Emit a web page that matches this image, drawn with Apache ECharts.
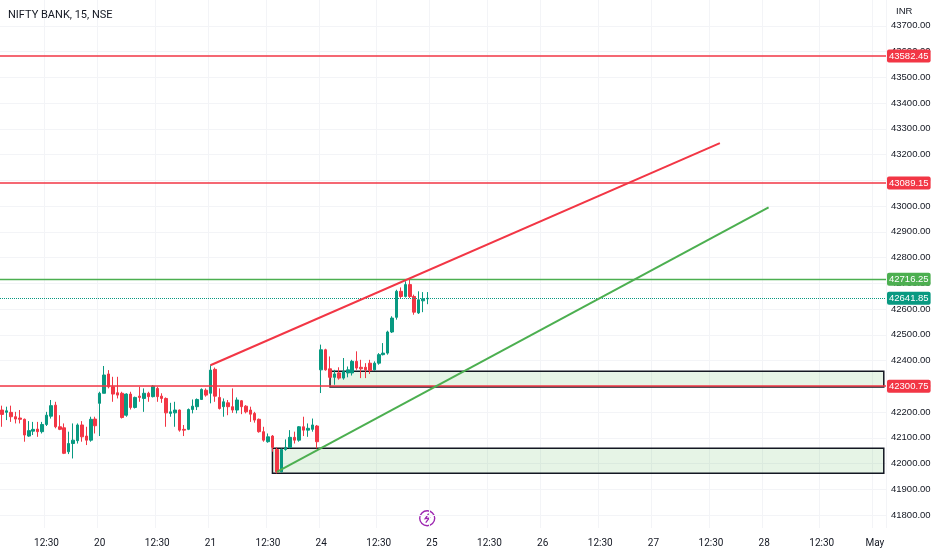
<!DOCTYPE html>
<html>
<head>
<meta charset="utf-8">
<title>NIFTY BANK, 15, NSE</title>
<script src="https://cdn.jsdelivr.net/npm/echarts@6/dist/echarts.min.js"></script>
<style>
  html, body { margin: 0; padding: 0; background: #fff; }
  #main { width: 932px; height: 550px; }
</style>
</head>
<body>
<div id="main"></div>
<script>
// trading days on the time axis and the 15 minute slots of one session
var days = ['19', '20', '21', '24', '25', '26', '27', '28', 'May'];
var slotTimes = ['09:15', '09:30', '09:45', '10:00', '10:15', '10:30', '10:45', '11:00', '11:15',
  '11:30', '11:45', '12:00', '12:15', '12:30', '12:45', '13:00', '13:15', '13:30', '13:45',
  '14:00', '14:15', '14:30', '14:45', '15:00', '15:15'];

// candles [open, close, low, high]
var apr19 = [
  [42208, 42191, 42143, 42225], [42199, 42205, 42169, 42221], [42199, 42182, 42162, 42225],
  [42182, 42173, 42156, 42201], [42177, 42172, 42156, 42208], [42172, 42111, 42085, 42175],
  [42107, 42128, 42104, 42165], [42126, 42133, 42111, 42162], [42134, 42124, 42104, 42162],
  [42124, 42152, 42117, 42162], [42152, 42188, 42146, 42201], [42184, 42225, 42175, 42247],
  [42227, 42143, 42137, 42240], [42143, 42133, 42130, 42188], [42139, 42040, 42037, 42156],
  [42046, 42078, 42037, 42124], [42078, 42091, 42020, 42156], [42089, 42150, 42078, 42156],
  [42150, 42104, 42085, 42165], [42107, 42091, 42072, 42143], [42091, 42172, 42085, 42182],
  [42173, 42147, 42117, 42182]
];
var apr20 = [
  [42234, 42273, 42107, 42279], [42273, 42344, 42273, 42379], [42348, 42298, 42292, 42363],
  [42298, 42270, 42240, 42337], [42275, 42266, 42253, 42337], [42273, 42179, 42175, 42279],
  [42188, 42270, 42182, 42273], [42270, 42218, 42210, 42279], [42218, 42257, 42214, 42260],
  [42262, 42257, 42240, 42298], [42253, 42273, 42201, 42292], [42273, 42260, 42240, 42279],
  [42260, 42301, 42257, 42305], [42292, 42260, 42240, 42298], [42262, 42253, 42236, 42273],
  [42253, 42197, 42143, 42257], [42195, 42201, 42182, 42236], [42197, 42208, 42143, 42240],
  [42208, 42130, 42124, 42210], [42133, 42130, 42107, 42150], [42133, 42210, 42130, 42214],
  [42210, 42223, 42195, 42249], [42221, 42249, 42208, 42253], [42249, 42288, 42247, 42292],
  [42285, 42266, 42260, 42292]
];
var apr21 = [
  [42273, 42363, 42234, 42382], [42366, 42262, 42240, 42373], [42257, 42214, 42210, 42292],
  [42221, 42240, 42182, 42253], [42236, 42221, 42188, 42247], [42221, 42208, 42197, 42292],
  [42208, 42247, 42195, 42257], [42244, 42221, 42192, 42247], [42223, 42201, 42195, 42227],
  [42208, 42192, 42162, 42221], [42195, 42169, 42159, 42201], [42172, 42124, 42120, 42175],
  [42124, 42091, 42085, 42143], [42085, 42104, 42081, 42117], [42107, 42063, 42046, 42111],
  [42055, 41968, 41962, 42063], [41968, 42055, 41966, 42059], [42055, 42063, 42050, 42094],
  [42063, 42102, 42059, 42130], [42102, 42091, 42078, 42124], [42091, 42143, 42085, 42146],
  [42143, 42130, 42107, 42182], [42130, 42137, 42104, 42156], [42133, 42150, 42124, 42175],
  [42146, 42085, 42059, 42150]
];
var apr24 = [
  [42364, 42442, 42274, 42462], [42442, 42364, 42361, 42446], [42368, 42335, 42326, 42416],
  [42335, 42348, 42306, 42364], [42352, 42332, 42326, 42374], [42332, 42358, 42326, 42410],
  [42352, 42364, 42335, 42377], [42352, 42397, 42342, 42403], [42397, 42371, 42364, 42436],
  [42374, 42368, 42332, 42403], [42374, 42364, 42332, 42390], [42390, 42361, 42348, 42403],
  [42364, 42390, 42361, 42397], [42390, 42423, 42384, 42429], [42423, 42429, 42420, 42468],
  [42429, 42511, 42423, 42516], [42511, 42565, 42507, 42572], [42568, 42669, 42559, 42675],
  [42669, 42649, 42643, 42684], [42649, 42695, 42645, 42708], [42695, 42649, 42643, 42716],
  [42649, 42588, 42578, 42656], [42585, 42636, 42581, 42669], [42632, 42640, 42588, 42666],
  [42640, 42641.85, 42619, 42666]
];

// price axis ticks
var yTicks = [41800, 41900, 42000, 42100, 42200, 42300, 42400, 42500, 42600, 42700,
  42800, 42900, 43000, 43100, 43200, 43300, 43400, 43500, 43600, 43700];

// drawn levels
var redLevels = [43582.45, 43089.15, 42300.75];
var greenLevels = [42716.25];
var lastPrice = 42641.85;

// trend lines: [category index, price]
var redTrend = [[47, 42382], [162, 43244]];
var greenTrend = [[62, 41968], [173, 42995]];

// demand zones: [from index, to index, top price, bottom price]
var zones = [[61, 199, 42060, 41963], [74, 199, 42359, 42297]];

// build category list (chart starts at 19th 10:00)
var categories = [];
days.forEach(function (d) {
  slotTimes.forEach(function (t) { categories.push(d + ' ' + t); });
});
categories = categories.slice(3, 203);

var candles = apr19.concat(apr20, apr21, apr24);

var up = '#089981', down = '#f23645', green = '#4caf50', ink = '#131722';
var font = 'Roboto, "Liberation Sans", sans-serif';
// price scale is only 46px wide, use the narrowest sans
var narrow = '"Liberation Sans", Roboto, sans-serif';

function showX(i, v) {
  var t = v.split(' ')[1];
  return t === '09:15' || t === '12:30';
}

var markLines = [];
redLevels.forEach(function (v) {
  markLines.push({ yAxis: v, lineStyle: { color: down, width: 1.6, type: 'solid' },
    label: { backgroundColor: down } });
});
greenLevels.forEach(function (v) {
  markLines.push({ yAxis: v, lineStyle: { color: green, width: 1.4, type: 'solid' },
    label: { backgroundColor: green } });
});
markLines.push({ yAxis: lastPrice, lineStyle: { color: up, width: 1, type: 'dotted' },
  label: { backgroundColor: up } });
markLines.push([{ coord: redTrend[0] }, { coord: redTrend[1],
  lineStyle: { color: down, width: 2, type: 'solid' }, label: { show: false } }]);
markLines.push([{ coord: greenTrend[0] }, { coord: greenTrend[1],
  lineStyle: { color: green, width: 2, type: 'solid' }, label: { show: false } }]);

var areas = zones.map(function (z) {
  return [{ coord: [z[0], z[2]] }, { coord: [z[1], z[3]] }];
});

var chart = echarts.init(document.getElementById('main'));

var option = {
  animation: false,
  backgroundColor: '#ffffff',
  title: {
    text: 'NIFTY BANK, 15, NSE',
    left: 3, top: 5,
    textStyle: { color: ink, fontSize: 11, fontWeight: 'normal', fontFamily: font }
  },
  // plot area, the price scale sits in the 46px on the right
  grid: { left: 0, right: 46, top: 0, bottom: 22, outerBoundsMode: 'none', containLabel: false },
  xAxis: {
    type: 'category',
    data: categories,
    boundaryGap: true,
    axisLine: { show: false },
    axisTick: { show: false },
    axisLabel: {
      interval: showX,
      color: ink, fontSize: 10, fontFamily: font, margin: 10,
      formatter: function (v) {
        var p = v.split(' ');
        return p[1] === '09:15' ? p[0] : p[1];
      }
    },
    splitLine: { show: true, interval: showX, lineStyle: { color: '#f3f4f7', width: 1 } }
  },
  yAxis: {
    type: 'value',
    position: 'right',
    min: 41750,
    max: 43800,
    axisLine: { show: false },
    axisTick: { show: false, customValues: yTicks },
    axisLabel: {
      customValues: yTicks,
      color: ink, fontSize: 9.5, fontFamily: narrow, margin: 5,
      formatter: function (v) { return v.toFixed(2); }
    },
    splitLine: { show: true, lineStyle: { color: '#f3f4f7', width: 1 } }
  },
  graphic: [
    {
      type: 'text', left: 896, top: 6,
      style: { text: 'INR', fill: ink, fontSize: 9.5, fontFamily: narrow }
    },
    {
      type: 'group', left: 419, top: 510,
      children: [
        { type: 'circle', shape: { cx: 8, cy: 8, r: 7.5 },
          style: { fill: '#fff', stroke: '#9c27b0', lineWidth: 1.4 } },
        { type: 'polyline', shape: { points: [[9.5, 3.5], [6, 8.5], [10, 8], [6.5, 12.5]] },
          style: { fill: 'none', stroke: '#9c27b0', lineWidth: 1.3 } }
      ]
    }
  ],
  series: [{
    name: 'NIFTY BANK',
    type: 'candlestick',
    data: candles,
    barWidth: '68%',
    itemStyle: {
      color: up, color0: down,
      borderColor: up, borderColor0: down,
      borderWidth: 1
    },
    markArea: {
      silent: true,
      itemStyle: { color: 'rgba(76,175,80,0.14)', borderColor: ink, borderWidth: 1.5 },
      data: areas
    },
    markLine: {
      silent: true,
      symbol: ['none', 'none'],
      precision: 2,
      label: {
        position: 'end',
        distance: 1,
        color: '#fff',
        fontSize: 9.5,
        fontFamily: narrow,
        padding: [2, 2, 1, 2],
        borderRadius: 2,
        formatter: function (p) { return Number(p.value).toFixed(2); }
      },
      data: markLines
    }
  }]
};

chart.setOption(option);
</script>
</body>
</html>
